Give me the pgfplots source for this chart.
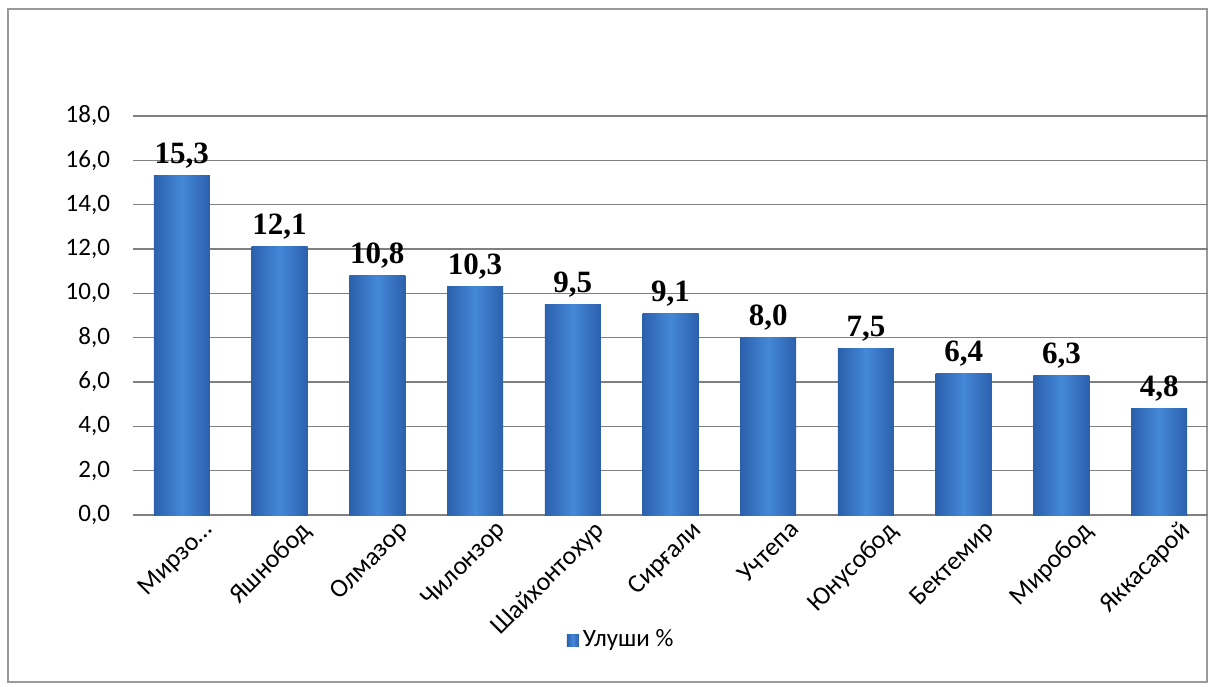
\documentclass[border=0pt]{standalone}
\usepackage{pgfplots}
\pgfplotsset{compat=1.18}
\usepackage{fontspec}
\setmainfont{Carlito}
\newfontfamily\valfont{Liberation Serif}
\definecolor{barmid}{RGB}{68,136,216}
\definecolor{baredge}{RGB}{44,96,172}
\definecolor{gridc}{RGB}{128,128,128}
\begin{document}
\begin{tikzpicture}[x=1pt,y=1pt]
\useasboundingbox (0,0) rectangle (604,343);
\draw[gridc!80, line width=1pt] (4,2) rectangle (603.5,338.5);
\begin{axis}[
  at={(66.5pt,85.5pt)}, anchor=south west,
  scale only axis,
  width=537.5pt, height=199.5pt,
  xmin=-0.5, xmax=10.5,
  ymin=0, ymax=18,
  ytick={0,2,4,6,8,10,12,14,16,18},
  xtick={0,1,2,3,4,5,6,7,8,9,10},
  xticklabels={{Мирзо…},{Яшнобод},{Олмазор},{Чилонзор},{Шайхонтохур},{Сирғали},{Учтепа},{Юнусобод},{Бектемир},{Миробод},{Яккасарой}},
  x tick label style={rotate=45, anchor=north east, font=\fontsize{13}{15}\selectfont, xshift=9pt, yshift=-5pt},
  y tick label style={font=\fontsize{12.5}{14}\selectfont, xshift=-8pt},
  /pgf/number format/.cd, fixed, fixed zerofill, precision=1, use comma, assume math mode=true,
  /pgfplots/.cd,
  major tick length=0pt,
  axis x line*=bottom,
  axis y line*=left,
  x axis line style={gridc, line width=1.2pt, -},
  y axis line style={draw=none},
  ymajorgrids,
  grid style={gridc, line width=0.6pt},
  ybar, bar width=0.573,
  mybar/.style={draw=none, left color=baredge, right color=baredge, middle color=barmid, bar shift=0pt},
  nodes near coords,
  every node near coord/.append style={font=\valfont\bfseries\fontsize{15.5}{17}\selectfont, /pgf/number format/.cd, fixed, fixed zerofill, precision=1, use comma, assume math mode=true},
  legend style={at={(0.455,-0.313)}, anchor=center, draw=none, fill=none, font=\fontsize{12.5}{14}\selectfont, legend cell align=left},
  legend image code/.code={\fill[left color=baredge, right color=baredge, middle color=barmid] (0,-3.5pt) rectangle (6pt,2.5pt);},
  clip=false,
]
\addplot[mybar] coordinates {(0,15.3)};
\addlegendentry{Улуши \%}
\addplot[mybar, forget plot] coordinates {(1,12.1)};
\addplot[mybar, forget plot] coordinates {(2,10.8)};
\addplot[mybar, forget plot] coordinates {(3,10.3)};
\addplot[mybar, forget plot] coordinates {(4,9.5)};
\addplot[mybar, forget plot] coordinates {(5,9.1)};
\addplot[mybar, forget plot] coordinates {(6,8.0)};
\addplot[mybar, forget plot] coordinates {(7,7.5)};
\addplot[mybar, forget plot] coordinates {(8,6.4)};
\addplot[mybar, forget plot] coordinates {(9,6.3)};
\addplot[mybar, forget plot] coordinates {(10,4.8)};
\end{axis}
\end{tikzpicture}
\end{document}
